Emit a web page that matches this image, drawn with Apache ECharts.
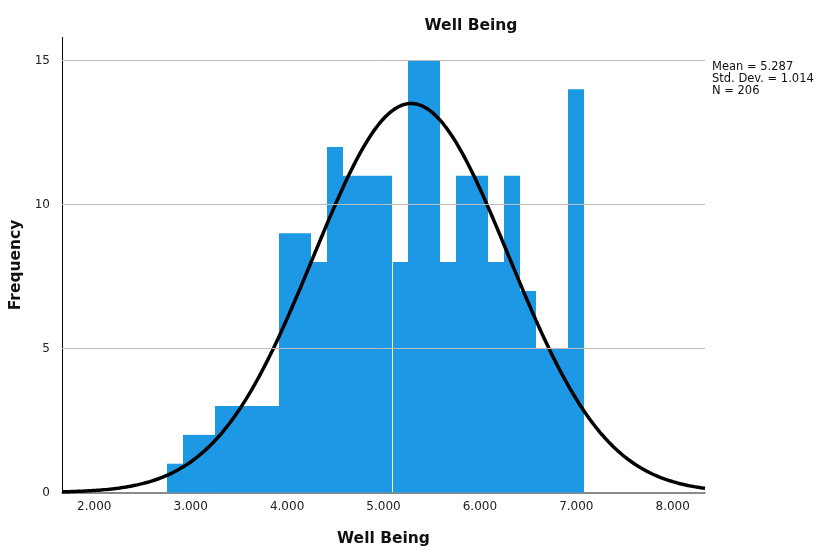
<!DOCTYPE html>
<html>
<head>
<meta charset="utf-8">
<script src="https://cdn.jsdelivr.net/npm/echarts@6/dist/echarts.min.js"></script>
<style>
  html, body { margin: 0; padding: 0; background: #fff; }
  #chart { width: 818px; height: 546px; }
</style>
</head>
<body>
<div id="chart"></div>
<script>
// Histogram of Well Being scores (bins of 1/6 point) with fitted normal curve
const binStart = 2.75;
const binWidth = 1 / 6;
const counts = [1, 2, 2, 3, 3, 3, 3, 9, 9, 8, 12, 11, 11, 11, 8, 15, 15, 8, 11, 11, 8, 11, 7, 5, 5, 14];
const xTicks = [2, 3, 4, 5, 6, 7, 8];
const yTicks = [0, 5, 10, 15];
const gridValues = [5, 10, 15];
const meanVal = 5.287;
const sdVal = 1.014;
const nVal = 206;
const xRange = [1.665, 8.335];
const yRange = [0, 15.8];
const seamBins = [14];

const FONT = '"DejaVu Sans", sans-serif';
const BAR_COLOR = '#1c98e4';

const barData = counts.map((c, i) => [binStart + i * binWidth, binStart + (i + 1) * binWidth, c, i]);

// Normal density scaled to counts per bin
const curve = [];
const steps = 300;
for (let k = 0; k <= steps; k++) {
  const x = xRange[0] + (xRange[1] - xRange[0]) * k / steps;
  const z = (x - meanVal) / sdVal;
  const y = nVal * binWidth * Math.exp(-0.5 * z * z) / (sdVal * Math.sqrt(2 * Math.PI));
  curve.push([x, y]);
}

const chart = echarts.init(document.getElementById('chart'), null, { renderer: 'canvas' });

chart.setOption({
  animation: false,
  backgroundColor: '#fff',
  title: {
    text: 'Well Being',
    left: 466, top: 13,
    textAlign: 'center',
    textStyle: { fontFamily: FONT, fontSize: 15.5, fontWeight: 'bold', color: '#111' }
  },
  grid: { left: 62, right: 113, top: 37.5, bottom: 53.5, containLabel: false, outerBoundsMode: 'none' },
  xAxis: {
    type: 'value',
    min: xRange[0], max: xRange[1],
    name: 'Well Being',
    nameLocation: 'middle',
    nameGap: 38,
    nameTextStyle: { fontFamily: FONT, fontSize: 15.5, fontWeight: 'bold', color: '#111' },
    axisLine: { show: true, onZero: false, lineStyle: { color: '#666', width: 1.5 } },
    axisTick: { show: false },
    splitLine: { show: false },
    axisLabel: {
      customValues: xTicks,
      formatter: v => v.toFixed(3),
      fontFamily: FONT, fontSize: 12, color: '#222', margin: 8
    }
  },
  yAxis: {
    type: 'value',
    min: yRange[0], max: yRange[1],
    name: 'Frequency',
    nameLocation: 'middle',
    nameGap: 37,
    nameRotate: 90,
    nameTextStyle: { fontFamily: FONT, fontSize: 15.5, fontWeight: 'bold', color: '#111' },
    axisLine: { show: true, lineStyle: { color: '#000', width: 1 } },
    axisTick: { show: false },
    splitLine: { show: false },
    axisLabel: {
      customValues: yTicks,
      fontFamily: FONT, fontSize: 12, color: '#222', margin: 12
    }
  },
  series: [
    {
      type: 'line',
      data: [],
      z: 1,
      silent: true,
      markLine: {
        silent: true,
        symbol: 'none',
        label: { show: false },
        lineStyle: { color: '#bbb', width: 1, type: 'solid' },
        data: gridValues.map(v => ({ yAxis: v }))
      }
    },
    {
      type: 'custom',
      z: 2,
      encode: { x: [0, 1], y: 2 },
      data: barData,
      renderItem: (params, api) => {
        const bottomLeft = api.coord([api.value(0), 0]);
        const topRight = api.coord([api.value(1), api.value(2)]);
        let left = Math.round(bottomLeft[0]);
        const right = Math.round(topRight[0]);
        if (seamBins.includes(api.value(3))) left += 1;
        return {
          type: 'rect',
          shape: { x: left, y: topRight[1], width: right - left, height: bottomLeft[1] - topRight[1] },
          style: { fill: BAR_COLOR }
        };
      }
    },
    {
      type: 'line',
      z: 3,
      data: curve,
      showSymbol: false,
      smooth: false,
      lineStyle: { color: '#000', width: 3.5 },
      silent: true
    }
  ],
  graphic: [
    {
      type: 'text',
      left: 712, top: 61,
      style: {
        text: ['Mean = ' + meanVal.toFixed(3), 'Std. Dev. = ' + sdVal.toFixed(3), 'N = ' + nVal].join('\n'),
        fontFamily: FONT, fontSize: 11.5, lineHeight: 12, fill: '#111'
      }
    }
  ]
});
</script>
</body>
</html>
